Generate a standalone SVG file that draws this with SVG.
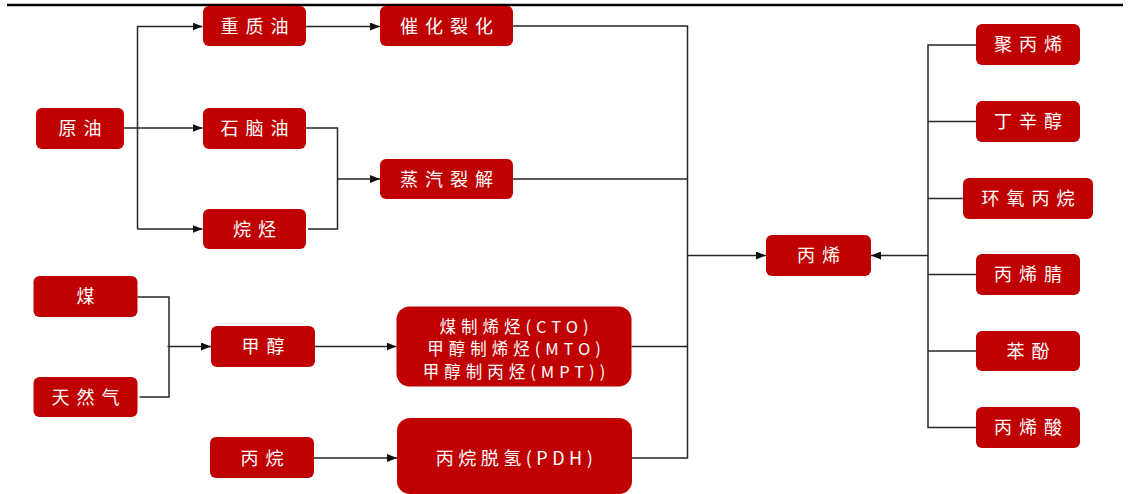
<svg xmlns="http://www.w3.org/2000/svg" width="1128" height="494" viewBox="0 0 1128 494">
<style>
.n rect{fill:#C00000;}
.n text{fill:#fff;font-family:"Noto Sans CJK SC","Noto Sans",sans-serif;font-size:18px;letter-spacing:7px;text-anchor:middle;}
.n text.s{letter-spacing:4.5px;}
.n text.m{font-size:16.5px;letter-spacing:5px;}
.c path{fill:none;stroke:#262626;stroke-width:1.5;}
</style>
<defs>
<marker id="ah" markerUnits="userSpaceOnUse" markerWidth="10" markerHeight="8" refX="10" refY="4" orient="auto">
<path d="M0,0 L10,4 L0,8 z" fill="#111"/>
</marker>
</defs>
<rect width="1128" height="494" fill="#fff"/>
<path d="M7 5 H1123" stroke="#000" stroke-width="2.5"/>
<g class="c">
<path d="M121 128 H202.5" marker-end="url(#ah)"/>
<path d="M137.5 229 V26.5 H202.5" marker-end="url(#ah)"/>
<path d="M137.5 229 H202.5" marker-end="url(#ah)"/>
<path d="M306 26.5 H380" marker-end="url(#ah)"/>
<path d="M306 128 H337.5 V229 H308"/>
<path d="M337.5 179 H380" marker-end="url(#ah)"/>
<path d="M137.5 297 H169 V397 H139.5"/>
<path d="M167.5 346.5 H211" marker-end="url(#ah)"/>
<path d="M315 346.5 H396.5" marker-end="url(#ah)"/>
<path d="M314 458 H397" marker-end="url(#ah)"/>
<path d="M513 26 H687.5 V458 H632"/>
<path d="M513 179 H687.5"/>
<path d="M631.5 346.5 H687.5"/>
<path d="M687.5 255.5 H766" marker-end="url(#ah)"/>
<path d="M928 255.5 H871" marker-end="url(#ah)"/>
<path d="M976 45 H928 V427.5 H976"/>
<path d="M928 121.5 H976"/>
<path d="M928 198.5 H963"/>
<path d="M928 274.5 H976"/>
<path d="M928 351 H976"/>
</g>
<g id="n-yuanyou" class="n"><rect x="36" y="108" width="88" height="41" rx="6"/><text x="83.5" y="135">原油</text></g>
<g id="n-zhongzhiyou" class="n"><rect x="203" y="6" width="103" height="40" rx="6"/><text x="258" y="32.5">重质油</text></g>
<g id="n-shinaoyou" class="n"><rect x="203" y="108" width="103" height="41" rx="6"/><text x="258" y="135">石脑油</text></g>
<g id="n-wanting" class="n"><rect x="203" y="209" width="103" height="40" rx="6"/><text x="258" y="235.5">烷烃</text></g>
<g id="n-cuihua" class="n"><rect x="380" y="6" width="133" height="40" rx="6"/><text x="450" y="32.5">催化裂化</text></g>
<g id="n-zhengqi" class="n"><rect x="380" y="159" width="133" height="40" rx="6"/><text x="450" y="185.5">蒸汽裂解</text></g>
<g id="n-mei" class="n"><rect x="33.5" y="276" width="104" height="41" rx="6"/><text x="89" y="303">煤</text></g>
<g id="n-tianranqi" class="n"><rect x="33.5" y="377" width="104" height="40" rx="6"/><text x="89" y="403.5">天然气</text></g>
<g id="n-jiachun" class="n"><rect x="211" y="326" width="104" height="41" rx="6"/><text x="266.5" y="353">甲醇</text></g>
<g id="n-cto" class="n"><rect x="396.5" y="306.5" width="235" height="80" rx="13"/>
<text class="m" x="516.5" y="332.5">煤制烯烃(CTO)</text>
<text class="m" x="516.5" y="355">甲醇制烯烃(MTO)</text>
<text class="m" x="516.5" y="377.5">甲醇制丙烃(MPT))</text></g>
<g id="n-bingwan" class="n"><rect x="210" y="437" width="104" height="41" rx="6"/><text x="265.5" y="464.5">丙烷</text></g>
<g id="n-pdh" class="n"><rect x="397" y="418" width="235" height="76" rx="13"/><text class="s" x="516.5" y="464.5">丙烷脱氢(PDH)</text></g>
<g id="n-bingxi" class="n"><rect x="766" y="235" width="105" height="41" rx="6"/><text x="822" y="262">丙烯</text></g>
<g id="n-jubingxi" class="n"><rect x="976" y="24" width="104" height="41" rx="6"/><text x="1031.5" y="51">聚丙烯</text></g>
<g id="n-dingxinchun" class="n"><rect x="976" y="101" width="104" height="41" rx="6"/><text x="1031.5" y="128">丁辛醇</text></g>
<g id="n-huanyang" class="n"><rect x="963" y="178" width="130" height="41" rx="6"/><text x="1031.5" y="205">环氧丙烷</text></g>
<g id="n-bingxijing" class="n"><rect x="976" y="254" width="104" height="41" rx="6"/><text x="1031.5" y="281">丙烯腈</text></g>
<g id="n-benfen" class="n"><rect x="976" y="331" width="104" height="40" rx="6"/><text x="1031.5" y="357.5">苯酚</text></g>
<g id="n-bingxisuan" class="n"><rect x="976" y="407" width="104" height="41" rx="6"/><text x="1031.5" y="434">丙烯酸</text></g>
</svg>
